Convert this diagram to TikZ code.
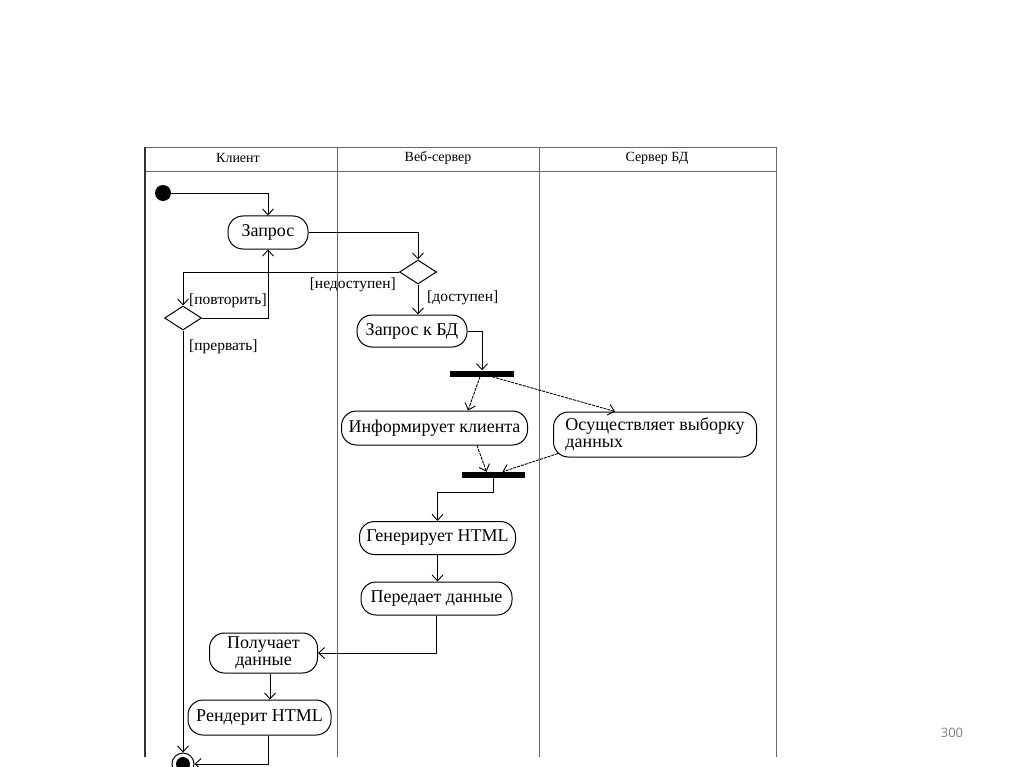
\documentclass[tikz,border=0pt]{standalone}
\usepackage{fontspec}
\setmainfont{Liberation Serif}
\newfontfamily\pgnum{Open Sans}
\usetikzlibrary{arrows.meta,shapes.geometric,calc}
\begin{document}
\begin{tikzpicture}[x=1pt,y=-1pt,
  act/.style={draw, line width=1pt, rounded corners=15pt, inner sep=2pt, font=\fontsize{18}{19}\selectfont},
  dec/.style={draw, line width=1pt, diamond, inner sep=0pt, minimum width=37pt, minimum height=24pt},
  bar/.style={fill=black, inner sep=0pt, minimum width=64pt, minimum height=6pt},
  arr/.style={line width=0.9pt, -{Straight Barb[length=6pt,width=11pt,line width=0.9pt]}},
  dsh/.style={arr, dash pattern=on 3pt off 1pt},
  guard/.style={font=\fontsize{15.5}{16}\selectfont, inner sep=0pt},
  lane/.style={line width=0.9pt, draw=black!60},
  hdr/.style={font=\fontsize{14}{15}\selectfont}]
\useasboundingbox (0,0) rectangle (1024,767);
\clip (0,0) rectangle (1024,767);
% swimlanes
\draw[lane] (145,147) -- (776,147);
\draw[lane] (145,171) -- (776,171);
\draw[line width=1.4pt, draw=black!80] (145,147) -- (145,757);
\draw[lane] (337,147) -- (337,757);
\draw[lane] (539,147) -- (539,757);
\draw[lane] (776,147) -- (776,757);
\node[hdr] (h1) at (238,158) {Клиент};
\node[hdr] (h2) at (438,158) {Веб-сервер};
\node[hdr] (h3) at (657,158) {Сервер БД};
% nodes
\node[circle, fill=black, inner sep=0pt, minimum size=16pt] (init) at (163,193) {};
\node[act, minimum width=80pt, minimum height=33pt] (zapros) at (268,232.5) {Запрос};
\node[dec] (d1) at (418,272) {};
\node[dec] (d2) at (183,318) {};
\node[act, minimum width=110pt, minimum height=32pt] (zbd) at (412,331) {Запрос к БД};
\node[bar] (fork) at (482,373.5) {};
\node[act, minimum width=186pt, minimum height=34pt] (inform) at (434.5,428) {Информирует клиента};
\node[act, minimum width=203pt, minimum height=45pt, align=left, font=\fontsize{18}{17}\selectfont] (osu) at (655,434.5) {Осуществляет выборку\\данных};
\node[bar, minimum width=63pt] (join) at (493.5,475) {};
\node[act, minimum width=156pt, minimum height=33pt] (gen) at (437.5,538) {Генерирует HTML};
\node[act, minimum width=151pt, minimum height=33pt] (pered) at (436.5,598.5) {Передает данные};
\node[act, minimum width=108pt, minimum height=40pt, align=center, font=\fontsize{18}{17}\selectfont] (pol) at (263.5,653) {Получает\\данные};
\node[act, minimum width=143pt, minimum height=35pt] (rend) at (259.5,717.5) {Рендерит HTML};
\node[circle, draw, line width=1pt, minimum size=22pt, inner sep=0pt] (final) at (183,764) {};
\node[circle, fill=black, minimum size=14pt, inner sep=0pt] (finalin) at (final.center) {};
% guards
\node[guard, anchor=east] (g1) at (396,285) {[недоступен]};
\node[guard, anchor=west] (g2) at (189,301) {[повторить]};
\node[guard, anchor=west] (g3) at (189,347) {[прервать]};
\node[guard, anchor=west] (g4) at (427,298) {[доступен]};
% connectors
\draw[arr] (init.east) -| (zapros.north);
\draw[arr] (zapros.east) -| (d1.north);
\draw[arr] (d1.west) -| (d2.north);
\draw[arr] (d2.east) -| (zapros.south);
\draw[arr] (d2.south) -- (final.north);
\draw[arr] (d1.south) -- (d1.south |- zbd.north);
\draw[arr] (zbd.east) -| (fork.north);
\draw[dsh] ([xshift=-2pt]fork.south) -- ([xshift=33.5pt]inform.north);
\draw[dsh] ([xshift=10pt]fork.south) -- ([xshift=-40pt]osu.north);
\draw[dsh] ([xshift=42.5pt]inform.south) -- ([xshift=-7pt]join.north);
\draw[dsh] ([xshift=5pt,yshift=4pt]osu.south west) -- ([xshift=9pt]join.north);
\coordinate (j1) at ($(join.south)+(0,14)$);
\draw[arr] (join.south) -- (j1) -| (gen.north);
\draw[arr] (gen.south) -- (gen.south |- pered.north);
\draw[arr] (pered.south) |- (pol.east);
\coordinate (p1) at ([xshift=6.5pt]pol.south);
\draw[arr] (p1) -- (p1 |- rend.north);
\coordinate (r1) at ([xshift=9pt]rend.south);
\draw[arr] (r1) |- (final.east);
% page number
\node[font=\pgnum\fontsize{13}{14}\selectfont, text=black!50] (pg) at (952,733) {300};
\end{tikzpicture}
\end{document}
